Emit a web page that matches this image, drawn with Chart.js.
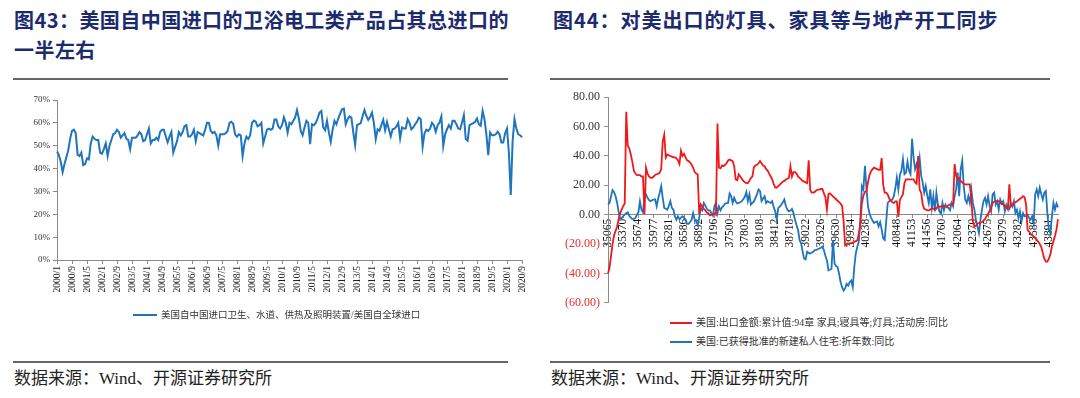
<!DOCTYPE html>
<html>
<head>
<meta charset="utf-8">
<script src="https://cdn.jsdelivr.net/npm/chart.js@4.4.0/dist/chart.umd.min.js"></script>
<style>
  body { margin: 0; width: 1080px; height: 398px; background: #fff; position: relative; overflow: hidden;
         font-family: "Liberation Serif", "Noto Sans CJK SC", serif; }
  .title { position: absolute; top: 5px; font-family: "Noto Sans CJK SC", sans-serif; font-weight: 700;
           font-size: 20px; line-height: 30px; color: #1c2b6e; white-space: nowrap; }
  .rule { position: absolute; height: 2px; background: #666; }
  .src { position: absolute; top: 368px; font-size: 17px; line-height: 22px; color: #222; white-space: nowrap; }
  .legend { position: absolute; font-size: 10px; line-height: 14px; color: #333; white-space: nowrap; }
  .legend i { display: inline-block; width: 24px; height: 2px; vertical-align: middle; margin-right: 4px; position: relative; top: -1px; }
  .box { position: absolute; }
</style>
</head>
<body>
<div class="title" style="left:14px;letter-spacing:0.45px">图43：美国自中国进口的卫浴电工类产品占其总进口的<br>一半左右</div>
<div class="title" style="left:553px;letter-spacing:1px">图44：对美出口的灯具、家具等与地产开工同步</div>
<div class="rule" style="left:13px;top:78px;width:495px"></div>
<div class="rule" style="left:550px;top:78px;width:500px"></div>

<div class="box" style="left:0;top:88px"><canvas id="shareChart" width="540" height="240"></canvas></div>
<div class="box" style="left:545px;top:86px"><canvas id="tradeChart" width="535" height="228"></canvas></div>

<div class="legend" style="left:133px;top:308px;font-size:9.5px"><i style="background:#1f74bd"></i>美国自中国进口卫生、水道、供热及照明装置/美国自全球进口</div>
<div class="legend" style="left:670px;top:316px"><i style="background:#ee1c1c;width:22px"></i>美国:出口金额:累计值:94章 家具;寝具等;灯具;活动房:同比</div>
<div class="legend" style="left:670px;top:335px"><i style="background:#1f74bd;width:22px"></i>美国:已获得批准的新建私人住宅:折年数:同比</div>

<div class="rule" style="left:13px;top:361px;width:495px"></div>
<div class="rule" style="left:550px;top:361px;width:500px"></div>
<div class="src" style="left:14px">数据来源：Wind、开源证券研究所</div>
<div class="src" style="left:551px">数据来源：Wind、开源证券研究所</div>

<script>
// 图43：美国自中国进口占比（%），2000/1 - 2020/9 月度
const shareData = [
  47.5, 46, 43, 38.5, 42, 45, 48, 53, 56.5, 57, 55.5, 46,
  45.5, 47, 41.5, 42, 44.5, 44, 51, 54, 53, 52.5, 52.5, 47,
  46.5, 48.5, 51, 45.5, 50, 52.5, 55, 55.5, 57, 56, 53.5, 54.5,
  55.5, 53, 52.5, 48.5, 53.5, 53.5, 53.5, 54.5, 56, 55, 52, 52.5,
  55, 57.5, 51, 52.5, 52.5, 53.5, 52.5, 56, 57, 57, 54, 51.5,
  54, 56, 47, 49.5, 52, 56, 54.5, 56, 58.5, 59, 54, 54,
  55, 57, 52, 56, 55.5, 55, 54.5, 57, 60, 60, 56.5, 55.5,
  56, 54.5, 50, 55, 55, 55, 55.5, 56.5, 60, 60.5, 59.5, 55,
  54, 55, 54.5, 45.5, 51, 54, 53, 54.5, 60, 61, 60.5, 58.5,
  59, 60, 51, 54, 57, 57.5, 57, 57.5, 61.5, 61.5, 58.5, 57.5,
  59, 62.4, 60, 55.7, 60, 59.4, 60.9, 62.3, 65.6, 61.9, 56.5, 54.6,
  58, 60.9, 60, 50.7, 59.4, 59, 60, 62, 64.5, 65.2, 58, 56.8,
  60.9, 55.8, 51.7, 57, 60.9, 59.4, 61.9, 64, 65.9, 66.2, 59.4, 61.6,
  62.8, 62.3, 56, 50.3, 59, 59.4, 59.9, 63, 65.6, 63, 61.3, 62.5,
  64.5, 60, 52.9, 57.2, 56.5, 59, 61.3, 56.8, 60.4, 57.2, 54.1, 57.2,
  57.5, 58.4, 60, 53.2, 58, 57.5, 57.5, 61.6, 60, 57.2, 58, 59.4,
  60.5, 62.3, 61.6, 49.6, 55.4, 57, 56.5, 57.5, 60, 59, 56.1, 59,
  60, 62.8, 49.9, 55, 57.2, 59, 57.5, 60.9, 60.9, 59.4, 57.5, 57.2,
  60, 63.4, 52.9, 52.2, 59, 59.4, 59.9, 60.5, 61.9, 59.4, 58.7, 65.2,
  61.6, 55, 45.9, 55.8, 54.6, 54.6, 55, 56.1, 55, 51.4, 51.4, 55.4,
  57.5, 47, 28.5, 52, 61.6, 57.5, 55, 54.6, 53.6
];
const shareTicks = ["2000/1", "2000/9", "2001/5", "2002/1", "2002/9", "2003/5", "2004/1", "2004/9",
  "2005/5", "2006/1", "2006/9", "2007/5", "2008/1", "2008/9", "2009/5", "2010/1", "2010/9", "2011/5",
  "2012/1", "2012/9", "2013/5", "2014/1", "2014/9", "2015/5", "2016/1", "2016/9", "2017/5", "2018/1",
  "2018/9", "2019/5", "2020/1", "2020/9"];

// 图44：出口累计同比（红）与新建私人住宅许可同比（蓝），1996/1 - 2020/9 月度
const exportYoY = [
  -40, -36, -28, -20, -14, -11, -8, -3, 1, 3.5, 6, 7.5,
  70, 47, 45, 41, 36, 30, 28, 27, 27, 27, 26, 26,
  0.5, 32, 28, 26, 25, 25, 26, 27, 27.5, 28, 28.5, 31,
  50, 54.5, 39, 41, 40.5, 40, 39.5, 39, 39, 38.5, 37, 34.5,
  43.5, 40, 41.4, 39, 37, 36.5, 35.5, 34, 32, 29, 28, 27.5,
  0.5, 7, 5.5, 4, 3, 1.5, 1, -0.5, 0, 0.5, 1, 0,
  62, 32, 31.5, 33.5, 33, 34, 35, 37, 37.5, 37, 36.5, 33,
  24, 23.5, 27.5, 26, 24.5, 23, 22, 21.5, 21.5, 23, 25, 26,
  32.5, 33.5, 34, 35, 36.5, 35, 33.5, 33, 31, 30, 28, 26,
  24, 21, 18.5, 18.5, 19.5, 20.5, 21.5, 22.5, 23, 24, 24.5, 25,
  33, 26, 29, 29, 28, 26, 25, 24, 23, 22.5, 22, 21.5,
  37, 17, 15, 15, 15.5, 16.5, 17, 17, 17.5, 17.5, 14.5, 12,
  3.5, 14, 14.5, 13.5, 12.5, 11.5, 10.5, 9.5, 8.5, 7.5, 6, -5,
  -21, -20.5, -20, -19.5, -19.5, -19, -18.5, -18, -17.5, -13, -6, 8,
  13, 15.5, 16, 22, 27, 29.5, 31, 32, 31.5, 31, 30.5, 30.5,
  38.5, 20.5, 15, 15, 13.8, 11, 9.5, 8.5, 8, 9, 9, -1.5,
  10, 12, 14, 21.5, 24, 24, 24, 24, 24, 24, 22, 21,
  40, 17, 15, 7, 4, 3.5, 3, 3, 3.5, 4.5, 4, 4,
  4, 6, 5.5, 5.5, 6, 6, 5.5, 5.5, 6.5, 7, 7, 7,
  34.5, 26.5, 24, 25, 23, 22, 21, 20.7, 20.7, 20.7, 20.7, 10,
  -4.5, -8, -7.5, -6, -5.7, -5.5, -5, -4, -3, -1, 0.5, 2.5,
  5, 8, 9, 9.2, 9.2, 9.2, 8.5, 7.5, 7, 6, 5, 3.5,
  20.7, 5.7, 6.5, 7.5, 8.5, 9.2, 10, 10.8, 11.5, 12.6, 12, 7,
  -10.3, -11.5, -13, -14, -15, -16, -17.2, -18.5, -20, -22, -26, -30,
  -32, -32, -30, -27, -21.5, -18, -14.5, -10, -3
];
const permitYoY = [
  7, 8, 12.6, 16.8, 15.4, 12.6, 8, 2, -3, -2.3, -1, 0,
  1, 1.6, -0.7, -2, -3, -2.8, -2.3, 0, 1.6, 9.2, 3.4, 1.6,
  12.6, 13.8, 11.5, 10, 9.2, 9.8, 10.3, 10.5, 5.7, 11, 15, 19.5,
  11.5, 4.6, 4, 3.4, 6, 9.2, 4.6, 3.5, -1, -3.4, -1.1, -3,
  -2, -1.1, -2, -3.4, -6.2, -6.2, -5, -3.4, 1.1, -3.4, -4.6, -6.9,
  -2.3, 4.6, 3, 8, 6.2, 4, 3, 3, 1, -0.7, 5.7, 8,
  1.1, 5.7, 3, 5, 6, 7.6, 7.8, 8, 14.5, 12.6, 8, 11.5,
  9, 7.6, 8, 8.5, 9.2, 10.5, 12.2, 15.4, 9.2, 13.8, 6.9, 8,
  9, 11.5, 14, 17.2, 16.1, 9.2, 11, 12.6, 8, 9.2, 8.5, 8,
  9.2, 5, 2.3, -3.4, 4.6, 5.5, 6.9, 8.5, 10.3, 5.7, 3.4, 2.3,
  2.8, 3.9, 1.1, -3.4, -7, -10.3, -17.2, -19.5, -25, -30, -30.5, -25.3,
  -26, -26.4, -25.8, -25.3, -24.1, -24, -23.5, -23, -22.5, -21.8, -24.1, -28,
  -31, -37.9, -37.5, -36.8, -17.2, -33.3, -35, -35.6, -40.2, -46, -49.4, -51.7,
  -50, -47.1, -48.3, -46, -44.8, -49.4, -35.6, -26.4, -21.8, -18.4, -3.4, 19.5,
  17.2, 33.3, 18.4, 5.7, 1, -2, -4, -5.7, -5, -4.6, -8, -5,
  -10, -16.1, -17.2, -4.6, 8, 9.2, 9.8, 10.3, 12.6, 18, 25.3, 17.2,
  27, 29.9, 37.9, 27.6, 28.7, 36.1, 30, 27.6, 51.7, 39.1, 31, 34.5,
  29.9, 38.4, 26.4, 21.8, 15, 19.5, 13, 8, 17.2, 4.6, 12.6, 2.3,
  15, 6.9, 2.3, 0.7, 8, 3, 6.9, 5, 4.6, 3, 8, 5.7,
  12.6, 17.2, 28.7, 12.6, 31, 36.8, 19.5, 10.3, 8, 12.6, 8, 17.2,
  8, 3.4, -3.4, -8, -12.6, -3.4, 3.4, 9.2, 11.5, 6.9, 12.6, 6,
  2.3, 13.8, 15, 6.9, 9.2, 3.4, 10.3, 7.6, 9.2, 2.3, 6.9, 5,
  3.9, 8, 5.7, 9.2, 1.1, 3.4, -2.3, 2.3, -4.6, 1.1, -1.1, -1,
  0, -2.3, -3.4, -1.1, -5.7, 13.8, 17.2, 12.6, 18.4, 14, 10.3, 15,
  16.1, 1.1, -10.3, -12.6, -1.1, 8, 3.4, 7.6, 5
];
// x轴显示的是Excel日期序列号
const tradeTicks = ["35065", "35370", "35674", "35977", "36281", "36586", "36892", "37196", "37500",
  "37803", "38108", "38412", "38718", "39022", "39326", "39630", "39934", "40238", "40543", "40848",
  "41153", "41456", "41760", "42064", "42370", "42675", "42979", "43282", "43586", "43891"];

// 月份类别
const shareMonths = shareData.map((v, k) => (2000 + Math.floor(k / 12)) + "/" + (k % 12 + 1));
const tradeMonths = exportYoY.map((v, k) =>
  String(Math.round((Date.UTC(1996 + Math.floor(k / 12), k % 12, 1) - Date.UTC(1899, 11, 30)) / 86400000)));

Chart.defaults.font.family = "'Liberation Serif', 'Noto Sans CJK SC', serif";
const axisGray = "#8a8a8a";

// 左图
new Chart(document.getElementById("shareChart"), {
  type: "line",
  data: {
    labels: shareMonths,
    datasets: [{
      data: shareData,
      borderColor: "#1f74bd",
      borderWidth: 2,
      pointRadius: 0,
      tension: 0,
      fill: false,
    }],
  },
  options: {
    responsive: false,
    animation: false,
    devicePixelRatio: 1,
    layout: { padding: { top: 12, right: 18, left: 0, bottom: 0 } },
    plugins: { legend: { display: false }, tooltip: { enabled: false } },
    scales: {
      x: {
        offset: false,
        grid: { drawOnChartArea: false, drawTicks: true, tickLength: 4, color: axisGray },
        border: { color: axisGray },
        ticks: { autoSkip: false, maxRotation: 90, minRotation: 90, padding: 2, color: "#222", font: { size: 9.5 } },
        afterBuildTicks: (s) => {
          s.ticks = s.ticks.filter((t) => shareTicks.includes(s.getLabelForValue(t.value)));
        },
        afterFit: (s) => { s.height = 68; },
      },
      y: {
        min: 0,
        max: 70,
        grid: { drawOnChartArea: false, tickLength: 4, color: axisGray },
        border: { color: axisGray },
        ticks: { stepSize: 10, padding: 3, color: "#333", font: { size: 9 }, callback: (v) => v + "%" },
        afterFit: (s) => { s.width = 57; },
      },
    },
  },
});

// 右图
new Chart(document.getElementById("tradeChart"), {
  type: "line",
  data: {
    labels: tradeMonths,
    datasets: [
      { data: exportYoY, borderColor: "#f01818", borderWidth: 1.8, pointRadius: 0, tension: 0, fill: false },
      { data: permitYoY, borderColor: "#1f74bd", borderWidth: 1.8, pointRadius: 0, tension: 0, fill: false },
    ],
  },
  options: {
    responsive: false,
    animation: false,
    devicePixelRatio: 1,
    layout: { padding: { top: 7, right: 22, left: 0, bottom: 4 } },
    plugins: { legend: { display: false }, tooltip: { enabled: false } },
    scales: {
      x: {
        position: { y: 0 },
        offset: false,
        grid: { drawOnChartArea: false, drawTicks: true, tickLength: 3, color: axisGray },
        border: { color: axisGray },
        ticks: { autoSkip: false, maxRotation: 90, minRotation: 90, padding: 1, color: "#111", font: { size: 11.5 } },
        afterBuildTicks: (s) => {
          s.ticks = s.ticks.filter((t) => tradeTicks.includes(s.getLabelForValue(t.value)));
        },
        afterFit: (s) => { s.height = 0; },
      },
      y: {
        min: -60,
        max: 80,
        grid: { drawOnChartArea: false, tickLength: 4, color: axisGray },
        border: { color: axisGray },
        ticks: {
          stepSize: 20,
          padding: 4,
          font: { size: 12 },
          color: (c) => (c.tick && c.tick.value < 0 ? "#e0302a" : "#333"),
          callback: (v) => (v < 0 ? "(" + Math.abs(v).toFixed(2) + ")" : v.toFixed(2)),
        },
        afterFit: (s) => { s.width = 63; },
      },
    },
  },
});
</script>
</body>
</html>
